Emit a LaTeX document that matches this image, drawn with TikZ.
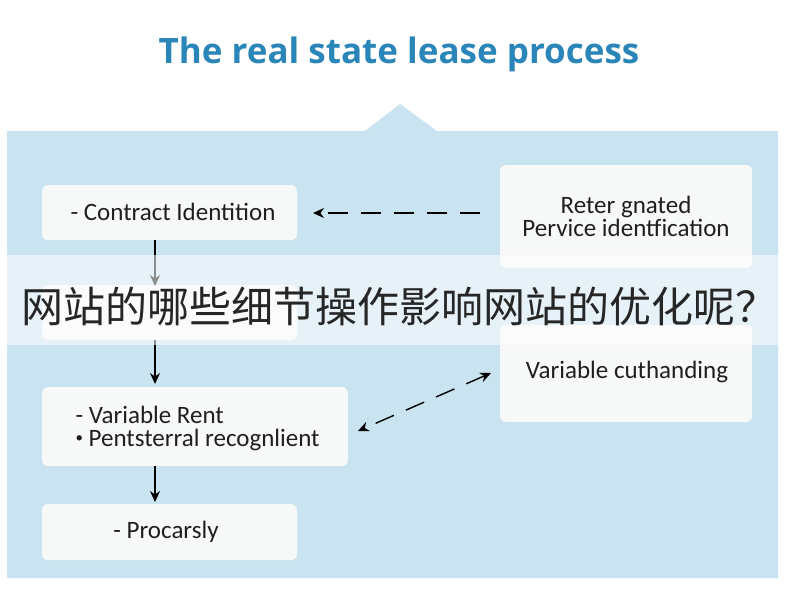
\documentclass[tikz,border=0pt]{standalone}
\usepackage{fontspec}
\setmainfont{Carlito}
\newfontfamily\titlefont{Open Sans}
\newfontfamily\cjk{Noto Sans CJK SC}
\usetikzlibrary{arrows.meta}
\definecolor{panelblue}{HTML}{C9E3F0}
\definecolor{boxfill}{HTML}{F7F8F8}
\definecolor{titleblue}{HTML}{2A85B8}
\tikzset{
  card/.style={fill=boxfill, rounded corners=6pt, draw=none},
  flow/.style={line width=1.4pt, -{Stealth[length=11pt,width=10pt]}},
  dflow/.style={line width=1.4pt, dash pattern=on 20pt off 13pt},
  lbl/.style={font=\fontsize{25}{23}\selectfont, text=black!88},
}
\begin{document}
\begin{tikzpicture}[x=1pt,y=-1pt]
\useasboundingbox (0,0) rectangle (800,600);
\fill[white] (0,0) rectangle (800,600);
\node[font=\titlefont\bfseries\fontsize{35}{38}\selectfont, text=titleblue] (title) at (399,54) {The real state lease process};
% panel
\fill[panelblue] (7,131) -- (365,131) -- (400,104) -- (437,131) -- (778,131) -- (778,578) -- (7,578) -- cycle;
% boxes
\fill[card] (42,185) rectangle (297,240);
\fill[card] (500,165) rectangle (752,268);
\fill[card] (42,285) rectangle (297,340);
\fill[card] (500,325) rectangle (752,422);
\fill[card] (42,387) rectangle (348,466);
\fill[card] (42,504) rectangle (297,560);
\coordinate (Abot) at (155,240);
\coordinate (Ctop) at (155,286);
\coordinate (Cbot) at (155,340);
\coordinate (Etop) at (155,384);
\coordinate (Ebot) at (155,466);
\coordinate (Ftop) at (155,502);
\coordinate (Bleft) at (480,213);
\coordinate (Aright) at (313,213);
\coordinate (Dleft) at (491,373);
\coordinate (Eright) at (358,431);
\node[lbl] (a) at (173,212) {- Contract Identition};
\node[lbl, align=center] (b) at (626,216) {Reter gnated\\Pervice identfication};
\node[lbl] (d) at (627,372) {Variable cuthanding};
\node[lbl, align=left, anchor=west] (e) at (72,428) {- Variable Rent\\\raisebox{0.3ex}{\fontsize{15}{15}\selectfont\textbullet}\ Pentsterral recognlient};
\node[lbl] (f) at (166,532) {- Procarsly};
% connectors
\draw[flow] (Abot) -- (Ctop);
\draw[flow] (Cbot) -- (Etop);
\draw[flow] (Ebot) -- (Ftop);
\draw[dflow, -{Stealth[length=11pt,width=10pt]}] (Bleft) -- (Aright);
\draw[dflow, {Stealth[length=11pt,width=10pt]}-{Stealth[length=11pt,width=10pt]}] (Dleft) -- (Eright);
% overlay band
\fill[white, opacity=0.55] (0,255) rectangle (800,345);
\node[font=\cjk\fontsize{42}{46}\selectfont, text=black!85] (wm) at (399,306) {网站的哪些细节操作影响网站的优化呢？};
\end{tikzpicture}
\end{document}
